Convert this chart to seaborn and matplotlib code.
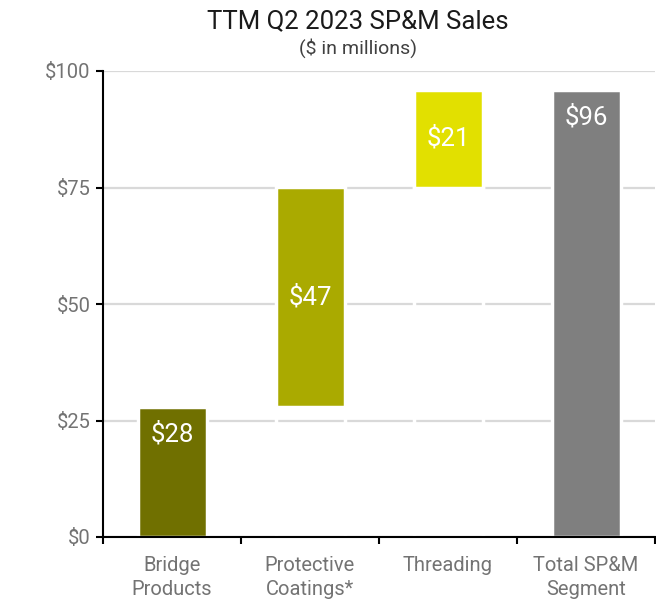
import matplotlib
matplotlib.use("Agg")
import matplotlib.pyplot as plt
import seaborn as sns

# Waterfall data ($ in millions)
categories = ["Bridge Products", "Protective Coatings*", "Threading", "Total SP&M Segment"]
tick_labels = ["Bridge\nProducts", "Protective\nCoatings*", "Threading", "Total SP&M\nSegment"]
values = [28, 47, 21, 96]
bases = [0, 28, 75, 0]
bar_colors = ["#707000", "#aaaa00", "#e2e000", "#7f7f7f"]

sns.set_style("white")
plt.rcParams["font.family"] = ["Roboto", "DejaVu Sans"]

fig = plt.figure(figsize=(6.56, 5.99), dpi=100)
ax = fig.add_axes([103 / 656, 1 - 537 / 599, 552 / 656, 466 / 599])

ax.yaxis.grid(True, color="#d9d9d9", linewidth=1.6)
ax.set_axisbelow(True)

# invisible base bars, only their white outline cuts the gridlines
for cat, base in zip(categories, bases):
    if base > 0:
        sns.barplot(x=[cat], y=[base], order=categories, color="white", fill=False,
                    width=0.5, linewidth=2.5, ax=ax)

for cat, val, base, col in zip(categories, values, bases, bar_colors):
    sns.barplot(x=[cat], y=[val], order=categories, bottom=base, color=col,
                saturation=1, width=0.5, edgecolor="white", linewidth=2.5, ax=ax)

# value labels
for i, (val, base) in enumerate(zip(values, bases)):
    top = base + val
    y = top - 6 if base == 0 else base + val / 2
    ax.text(i, y, f"${val}", ha="center", va="center", color="white", fontsize=18.5)

ax.set_xlim(-0.5, 3.5)
ax.set_ylim(0, 100)
ax.set_yticks([0, 25, 50, 75, 100])
ax.set_yticklabels([f"${v}" for v in [0, 25, 50, 75, 100]])
ax.set_xticks(range(len(categories)))
ax.set_xticklabels(tick_labels, linespacing=1.3)
ax.set_xticks([-0.5, 0.5, 1.5, 2.5, 3.5], minor=True)
ax.set_xlabel("")
ax.set_ylabel("")

ax.tick_params(axis="x", which="major", length=0, pad=14, labelsize=14.5, labelcolor="#737373")
ax.tick_params(axis="x", which="minor", length=5, width=1.5, color="black", bottom=True)
ax.tick_params(axis="y", length=5, width=1.5, color="black", left=True, pad=4,
               labelsize=14.5, labelcolor="#737373")

sns.despine(ax=ax, top=True, right=True)
ax.spines["left"].set_color("black")
ax.spines["left"].set_linewidth(1.5)
ax.spines["bottom"].set_color("black")
ax.spines["bottom"].set_linewidth(1.5)

fig.text(358 / 656, 1 - 21 / 599, "TTM Q2 2023 SP&M Sales", ha="center", va="center",
         fontsize=18.5, color="#1a1a1a")
fig.text(358 / 656, 1 - 48 / 599, "($ in millions)", ha="center", va="center",
         fontsize=14, color="#404040")

fig.savefig("out.png", dpi=100)
